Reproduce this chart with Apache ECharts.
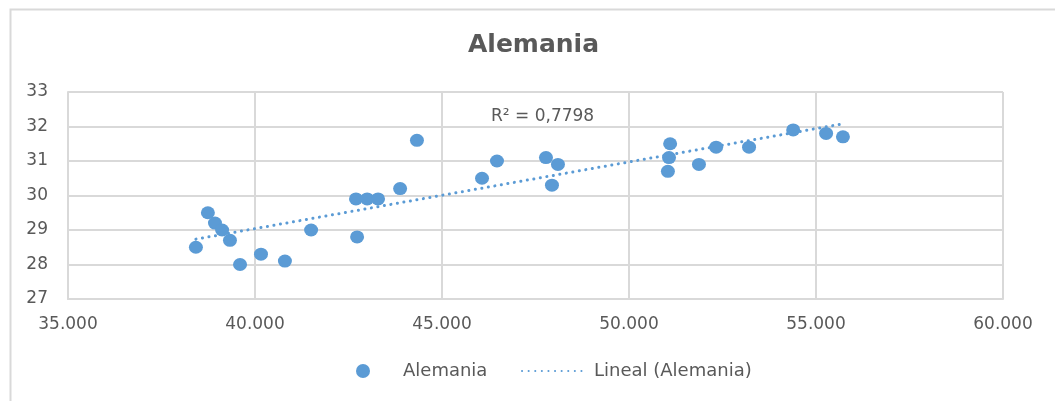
<!DOCTYPE html>
<html>
<head>
<meta charset="utf-8">
<script src="https://cdn.jsdelivr.net/npm/echarts@6/dist/echarts.min.js"></script>
<style>
html,body{margin:0;padding:0;background:#fff;}
#c{width:1055px;height:401px;}
</style>
</head>
<body>
<div id="c"></div>
<script>
// ---- data ----
const seriesName = 'Alemania';
const trendName = 'Lineal (Alemania)';
const chartTitle = 'Alemania';
const r2Text = 'R² = 0,7798';
const gdpX = [38420, 38740, 38930, 39120, 39330, 39600, 40160, 40800, 41500, 42700,
              42730, 43000, 43290, 43880, 44330, 46070, 46470, 47780, 47940, 48100,
              51040, 51070, 51100, 51870, 52330, 53210, 54390, 55270, 55720];
const valY = [28.5, 29.5, 29.2, 29.0, 28.7, 28.0, 28.3, 28.1, 29.0, 29.9,
              28.8, 29.9, 29.9, 30.2, 31.6, 30.5, 31.0, 31.1, 30.3, 30.9,
              30.7, 31.1, 31.5, 30.9, 31.4, 31.4, 31.9, 31.8, 31.7];
const xTicks = [35000, 40000, 45000, 50000, 55000, 60000];
const yTicks = [27, 28, 29, 30, 31, 32, 33];

// ---- linear least-squares trend from the data ----
const n = gdpX.length;
let sx = 0, sy = 0, sxx = 0, sxy = 0;
for (let i = 0; i < n; i++) { sx += gdpX[i]; sy += valY[i]; sxx += gdpX[i]*gdpX[i]; sxy += gdpX[i]*valY[i]; }
const slope = (n*sxy - sx*sy) / (n*sxx - sx*sx);
const icpt = (sy - slope*sx) / n;
const xmin = Math.min(...gdpX), xmax = Math.max(...gdpX);
const trendData = [[xmin, icpt + slope*xmin], [xmax, icpt + slope*xmax]];

const blue = '#5B9BD5';
const grey = '#595959';
const gridCol = '#d9d9d9';
const font = 'DejaVu Sans';

function fmtThousands(v) {
  return String(Math.round(v)).replace(/\B(?=(\d{3})+(?!\d))/g, '.');
}

const chart = echarts.init(document.getElementById('c'), null, {renderer: 'canvas'});
chart.setOption({
  animation: false,
  backgroundColor: '#fff',
  graphic: [{
    type: 'rect', left: 8, top: 7, silent: true,
    shape: {width: 1060, height: 400},
    style: {fill: 'none', stroke: gridCol, lineWidth: 2}
  }],
  title: [{
    text: chartTitle, left: 468, top: 33, padding: 0,
    textStyle: {fontFamily: font, fontWeight: 'bold', fontSize: 25, color: grey}
  }, {
    text: r2Text, left: 491, top: 108, padding: 0,
    textStyle: {fontFamily: font, fontWeight: 'normal', fontSize: 17, color: grey}
  }],
  legend: [{
    data: [seriesName], left: 356, top: 362, padding: 0, itemWidth: 14, itemHeight: 14,
    formatter: name => '{g|}' + name,
    textStyle: {fontFamily: font, fontSize: 18, color: grey, rich: {g: {width: 28}}}
  }, {
    data: [trendName], left: 521, top: 362, padding: 0, itemWidth: 61, itemHeight: 14,
    formatter: name => '{g|}' + name,
    itemStyle: {color: 'rgba(0,0,0,0)', borderWidth: 0},
    textStyle: {fontFamily: font, fontSize: 18, color: grey, rich: {g: {width: 6}}}
  }],
  grid: {left: 68, right: 52, top: 92, bottom: 102, containLabel: false},
  xAxis: {
    type: 'value', min: xTicks[0], max: xTicks[xTicks.length-1], interval: 5000,
    axisLine: {show: true, lineStyle: {color: gridCol, width: 2}},
    axisTick: {show: false},
    splitLine: {show: true, lineStyle: {color: gridCol, width: 2}},
    axisLabel: {fontFamily: font, fontSize: 17, color: grey, margin: 17, formatter: fmtThousands, showMinLabel: true, showMaxLabel: true}
  },
  yAxis: {
    type: 'value', min: yTicks[0], max: yTicks[yTicks.length-1], interval: 1,
    axisLine: {show: true, lineStyle: {color: gridCol, width: 2}},
    axisTick: {show: false},
    splitLine: {show: true, lineStyle: {color: gridCol, width: 2}},
    axisLabel: {fontFamily: font, fontSize: 17, color: grey, margin: 20}
  },
  series: [{
    name: seriesName, type: 'scatter',
    data: gdpX.map((x, i) => [x, valY[i]]),
    symbol: 'circle', symbolSize: [14, 13],
    itemStyle: {color: blue, opacity: 1},
    z: 3
  }, {
    name: trendName, type: 'line',
    data: trendData, symbol: 'none', showSymbol: false,
    lineStyle: {color: blue, width: 3, type: [0.1, 6.5], cap: 'round'},
    itemStyle: {color: blue},
    z: 2
  }]
});
</script>
</body>
</html>
